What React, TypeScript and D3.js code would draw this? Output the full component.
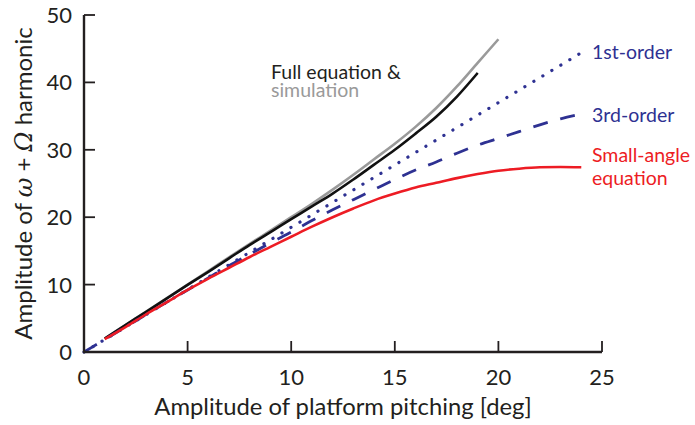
import React from "react";
import * as d3 from "d3";

const xTicks = [0, 5, 10, 15, 20, 25];
const yTicks = [0, 10, 20, 30, 40, 50];

const firstOrderX = [0, 4, 8, 12, 16, 20, 24];
const firstOrderY = [0, 7.4, 14.8, 22.2, 29.6, 37.0, 44.4];

const thirdOrderX = [0, 1, 2, 3, 4, 5, 6, 7, 8, 9, 10, 11, 12, 13, 14, 15, 16, 17, 18, 19, 20, 21, 22, 23, 24];
const thirdOrderY = [0, 1.85, 3.7, 5.55, 7.4, 9.2, 11.0, 12.8, 14.5, 16.2, 17.8, 19.5, 21.1, 22.6, 24.1, 25.6, 27.0, 28.2, 29.5, 30.7, 31.7, 32.7, 33.7, 34.6, 35.3];

const smallAngleX = [1, 2, 3, 4, 5, 6, 7, 8, 9, 10, 11, 12, 13, 14, 15, 16, 17, 18, 19, 20, 21, 22, 23, 24];
const smallAngleY = [1.9, 3.7, 5.6, 7.4, 9.2, 10.9, 12.5, 14.1, 15.6, 17.1, 18.6, 20.0, 21.3, 22.5, 23.5, 24.4, 25.1, 25.8, 26.4, 26.9, 27.2, 27.4, 27.45, 27.4];

const fullEqX = [1, 2, 3, 4, 5, 6, 7, 8, 9, 10, 11, 12, 13, 14, 15, 16, 17, 18, 19];
const fullEqY = [2.0, 4.0, 5.95, 7.95, 9.95, 11.9, 13.9, 15.9, 17.8, 19.7, 21.6, 23.5, 25.6, 27.8, 30.0, 32.4, 34.9, 37.9, 41.4];

const simX = [1, 2, 3, 4, 5, 6, 7, 8, 9, 10, 11, 12, 13, 14, 15, 16, 17, 18, 19, 20];
const simY = [2.0, 4.0, 6.0, 8.0, 10.0, 12.0, 14.05, 16.05, 18.0, 20.0, 22.0, 24.1, 26.3, 28.6, 30.9, 33.4, 36.2, 39.4, 42.9, 46.4];

const W = 695;
const H = 425;
const FONT = "Lato, 'Noto Sans', sans-serif";
const NAVY = "#2e3192";
const RED = "#ed1c24";
const GRAY = "#9a9a9a";
const INK = "#231f20";

export default function App() {
  const x = d3.scaleLinear().domain([0, 25]).range([84, 602]);
  const y = d3.scaleLinear().domain([0, 50]).range([352, 15]);

  const mk = (xs: number[], ys: number[], curve: any) =>
    d3
      .line<number>()
      .x((_, i) => x(xs[i]))
      .y((d) => y(d))
      .curve(curve)(ys) || "";

  return (
    <div style={{ position: "absolute", left: 0, top: 0, width: W, height: H, background: "#fff" }}>
      <svg width={W} height={H} style={{ display: "block" }} fontFamily={FONT}>
        <rect width={W} height={H} fill="#fff" />
        {/* curves */}
        <path d={mk(simX, simY, d3.curveMonotoneX)} fill="none" stroke={GRAY} strokeWidth={2.6} />
        <path d={mk(fullEqX, fullEqY, d3.curveMonotoneX)} fill="none" stroke="#111" strokeWidth={2.6} />
        <path
          d={mk(firstOrderX, firstOrderY, d3.curveLinear)}
          fill="none"
          stroke={NAVY}
          strokeWidth={3.2}
          strokeLinecap="round"
          strokeDasharray="0.1,10.4"
        />
        <path
          d={mk(thirdOrderX, thirdOrderY, d3.curveMonotoneX)}
          fill="none"
          stroke={NAVY}
          strokeWidth={2.8}
          strokeDasharray="15,13"
        />
        <path d={mk(smallAngleX, smallAngleY, d3.curveMonotoneX)} fill="none" stroke={RED} strokeWidth={2.6} />

        {/* axes */}
        <line x1={x(0)} x2={x(25)} y1={y(0)} y2={y(0)} stroke={INK} strokeWidth={2.4} />
        <line x1={x(0)} x2={x(0)} y1={y(0) + 1.2} y2={y(50)} stroke={INK} strokeWidth={2.4} />
        {xTicks.map((t) => (
          <g key={"x" + t}>
            {t > 0 && <line x1={x(t)} x2={x(t)} y1={y(0)} y2={y(0) - 11} stroke={INK} strokeWidth={1.8} />}
            <text x={x(t)} y={y(0) + 33} textAnchor="middle" fontSize={22} fill={INK}>
              {t}
            </text>
          </g>
        ))}
        {yTicks.map((t) => (
          <g key={"y" + t}>
            {t > 0 && <line x1={x(0)} x2={x(0) + 11} y1={y(t)} y2={y(t)} stroke={INK} strokeWidth={1.8} />}
            <text x={72} y={y(t) + 8} textAnchor="end" fontSize={22} fill={INK}>
              {t}
            </text>
          </g>
        ))}

        {/* axis titles */}
        <text x={(x(0) + x(25)) / 2} y={415} textAnchor="middle" fontSize={23.8} fill={INK}>
          Amplitude of platform pitching [deg]
        </text>
        <text transform={`translate(32,${(y(0) + y(50)) / 2}) rotate(-90)`} textAnchor="middle" fontSize={24} fill={INK}>
          Amplitude of{" "}
          <tspan fontFamily="'DejaVu Serif', serif" fontStyle="italic">ω</tspan>
          {" + "}
          <tspan fontFamily="'DejaVu Serif', serif" fontStyle="italic">Ω</tspan>
          {" harmonic"}
        </text>

        {/* labels */}
        <text x={271} y={79} fontSize={19.5} fill={INK}>Full equation &amp;</text>
        <text x={271} y={97} fontSize={19.5} fill={GRAY}>simulation</text>
        <text x={592} y={59} fontSize={19.5} fill={NAVY}>1st-order</text>
        <text x={592} y={122} fontSize={19.5} fill={NAVY}>3rd-order</text>
        <text x={592} y={162} fontSize={19.5} fill={RED}>Small-angle</text>
        <text x={592} y={185} fontSize={19.5} fill={RED}>equation</text>
      </svg>
    </div>
  );
}
